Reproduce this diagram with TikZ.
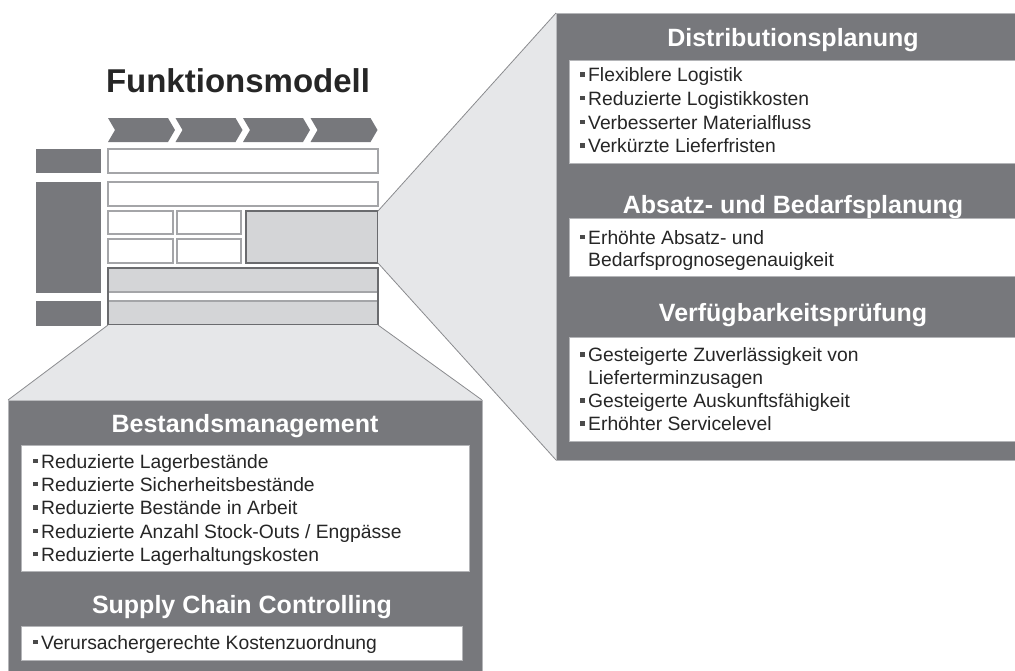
\documentclass[tikz,border=0pt]{standalone}
\usepackage{fontspec}
\setmainfont{Liberation Sans}
\usetikzlibrary{fit}
\definecolor{panel}{HTML}{77787C}
\definecolor{trap}{HTML}{E6E7E9}
\definecolor{lgray}{HTML}{D4D5D7}
\definecolor{edge}{HTML}{8A8B8E}
\definecolor{pedge}{HTML}{B4B5B8}
\definecolor{wedge}{HTML}{A4A5A8}
\definecolor{gedge}{HTML}{6A6B6E}
\definecolor{txt}{HTML}{262626}
\definecolor{bulc}{HTML}{4A4A4A}
\newcommand\bul{\textcolor{bulc}{\rule[5.2pt]{4.4pt}{4.4pt}}\hspace{3.6pt}}
\begin{document}
\begin{tikzpicture}[x=1pt,y=-1pt,
  darkbox/.style={fill=panel, draw=none, inner sep=0pt, outer sep=0pt},
  wbox/.style={fill=white, draw=wedge, line width=1.1pt, inner sep=0pt, outer sep=0pt},
  gbox/.style={fill=lgray, draw=wedge, line width=1.1pt, inner sep=0pt, outer sep=0pt},
  gframe/.style={draw=gedge, line width=1.6pt, inner sep=0pt, outer sep=0pt},
  panelbox/.style={fill=panel, draw=pedge, line width=0.8pt, inner sep=0pt, outer sep=0pt},
  textbox/.style={fill=white, draw=pedge, line width=0.8pt, inner sep=0pt, outer sep=0pt},
  trapfill/.style={fill=trap},
  trapline/.style={draw=edge, line width=0.8pt},
  ptitle/.style={text=white, font=\fontsize{25pt}{28pt}\selectfont\bfseries, inner sep=0pt, anchor=base},
  item/.style={text=txt, font=\fontsize{19.3pt}{23pt}\selectfont, inner sep=0pt, anchor=base west},
  chev/.style={fill=panel}
]
\useasboundingbox (0,0) rectangle (1015,670);
\clip (0,0) rectangle (1015,670);

% ---------- model ----------
\node[text=txt, font=\fontsize{33pt}{36pt}\selectfont\bfseries, inner sep=0pt, anchor=base] (title) at (238,92) {Funktionsmodell};

\foreach \i in {0,1,2,3} {
  \pgfmathsetmacro{\L}{108+67.5*\i}
  \pgfmathsetmacro{\R}{\L+67}
  \fill[chev] (\L,118) -- (\R-7,118) -- (\R,130) -- (\R-7,142) -- (\L,142) -- (\L+7,130) -- cycle;
}

\node[darkbox, fit={(36,149) (101,173)}] (l1) {};
\node[darkbox, fit={(36,182) (101,293)}] (l2) {};
\node[darkbox, fit={(36,301) (101,326)}] (l3) {};

\node[wbox, fit={(108,149) (378,173)}] (r1) {};
\node[wbox, fit={(108,182) (378,206)}] (r2) {};
\node[wbox, fit={(108,211) (173,234)}] (s11) {};
\node[wbox, fit={(177,211) (241,234)}] (s12) {};
\node[wbox, fit={(108,239) (173,263)}] (s21) {};
\node[wbox, fit={(177,239) (241,263)}] (s22) {};
\node[gbox, draw=gedge, line width=1.5pt, fit={(246,211) (378,263)}] (gb) {};

\node[gbox, fit={(108,268) (378,292)}] (g1) {};
\node[gbox, fit={(108,301) (378,325)}] (g2) {};
\node[gframe, fit={(108,268) (378,325)}] (bar) {};

% ---------- panels ----------
\node[panelbox, fit={(556,13) (1030,460)}] (rp) {};
\node[panelbox, fit={(8,400) (482,690)}] (bp) {};

% ---------- callout trapezoids ----------
\fill[trapfill] (gb.north east) -- (rp.north west) -- (rp.south west) -- (gb.south east) -- cycle;
\draw[trapline] (gb.north east) -- (rp.north west);
\draw[trapline] (gb.south east) -- (rp.south west);
\fill[trapfill] (bar.south west) -- (bar.south east) -- (bp.north east) -- (bp.north west) -- cycle;
\draw[trapline] (bar.south west) -- (bp.north west);
\draw[trapline] (bar.south east) -- (bp.north east);

% ---------- right panel ----------
\node[ptitle] (t1) at (793,46.7) {Distributionsplanung};
\node[textbox, fit={(569,60) (1022,163)}] (w1) {};
\node[item] (d1) at (580,81.7) {\bul Flexiblere Logistik};
\node[item] (d2) at (580,105.4) {\bul Reduzierte Logistikkosten};
\node[item] (d3) at (580,129.1) {\bul Verbesserter Materialfluss};
\node[item] (d4) at (580,152.8) {\bul Verkürzte Lieferfristen};

\node[ptitle] (t2) at (793,213.3) {Absatz- und Bedarfsplanung};
\node[textbox, fit={(569,218) (1022,276)}] (w2) {};
\node[item] (a1) at (580,244.3) {\bul Erhöhte Absatz- und};
\node[item] (a2) at (580,266.7) {\phantom{\bul}Bedarfsprognosegenauigkeit};

\node[ptitle] (t3) at (793,321.7) {Verfügbarkeitsprüfung};
\node[textbox, fit={(569,337) (1022,441)}] (w3) {};
\node[item] (v1) at (580,361.7) {\bul Gesteigerte Zuverlässigkeit von};
\node[item] (v2) at (580,384.6) {\phantom{\bul}Lieferterminzusagen};
\node[item] (v3) at (580,407.7) {\bul Gesteigerte Auskunftsfähigkeit};
\node[item] (v4) at (580,430.7) {\bul Erhöhter Servicelevel};

% ---------- bottom panel ----------
\node[ptitle] (t4) at (245,432.7) {Bestandsmanagement};
\node[textbox, fit={(21,445) (469,571)}] (w4) {};
\node[item] (b1) at (33,468.3) {\bul Reduzierte Lagerbestände};
\node[item] (b2) at (33,491.6) {\bul Reduzierte Sicherheitsbestände};
\node[item] (b3) at (33,514.9) {\bul Reduzierte Bestände in Arbeit};
\node[item] (b4) at (33,538.2) {\bul Reduzierte Anzahl Stock-Outs / Engpässe};
\node[item] (b5) at (33,561.5) {\bul Reduzierte Lagerhaltungskosten};

\node[ptitle] (t5) at (242,613.3) {Supply Chain Controlling};
\node[textbox, fit={(21,626) (462,660)}] (w5) {};
\node[item] (c1) at (33,649.3) {\bul Verursachergerechte Kostenzuordnung};
\end{tikzpicture}
\end{document}
